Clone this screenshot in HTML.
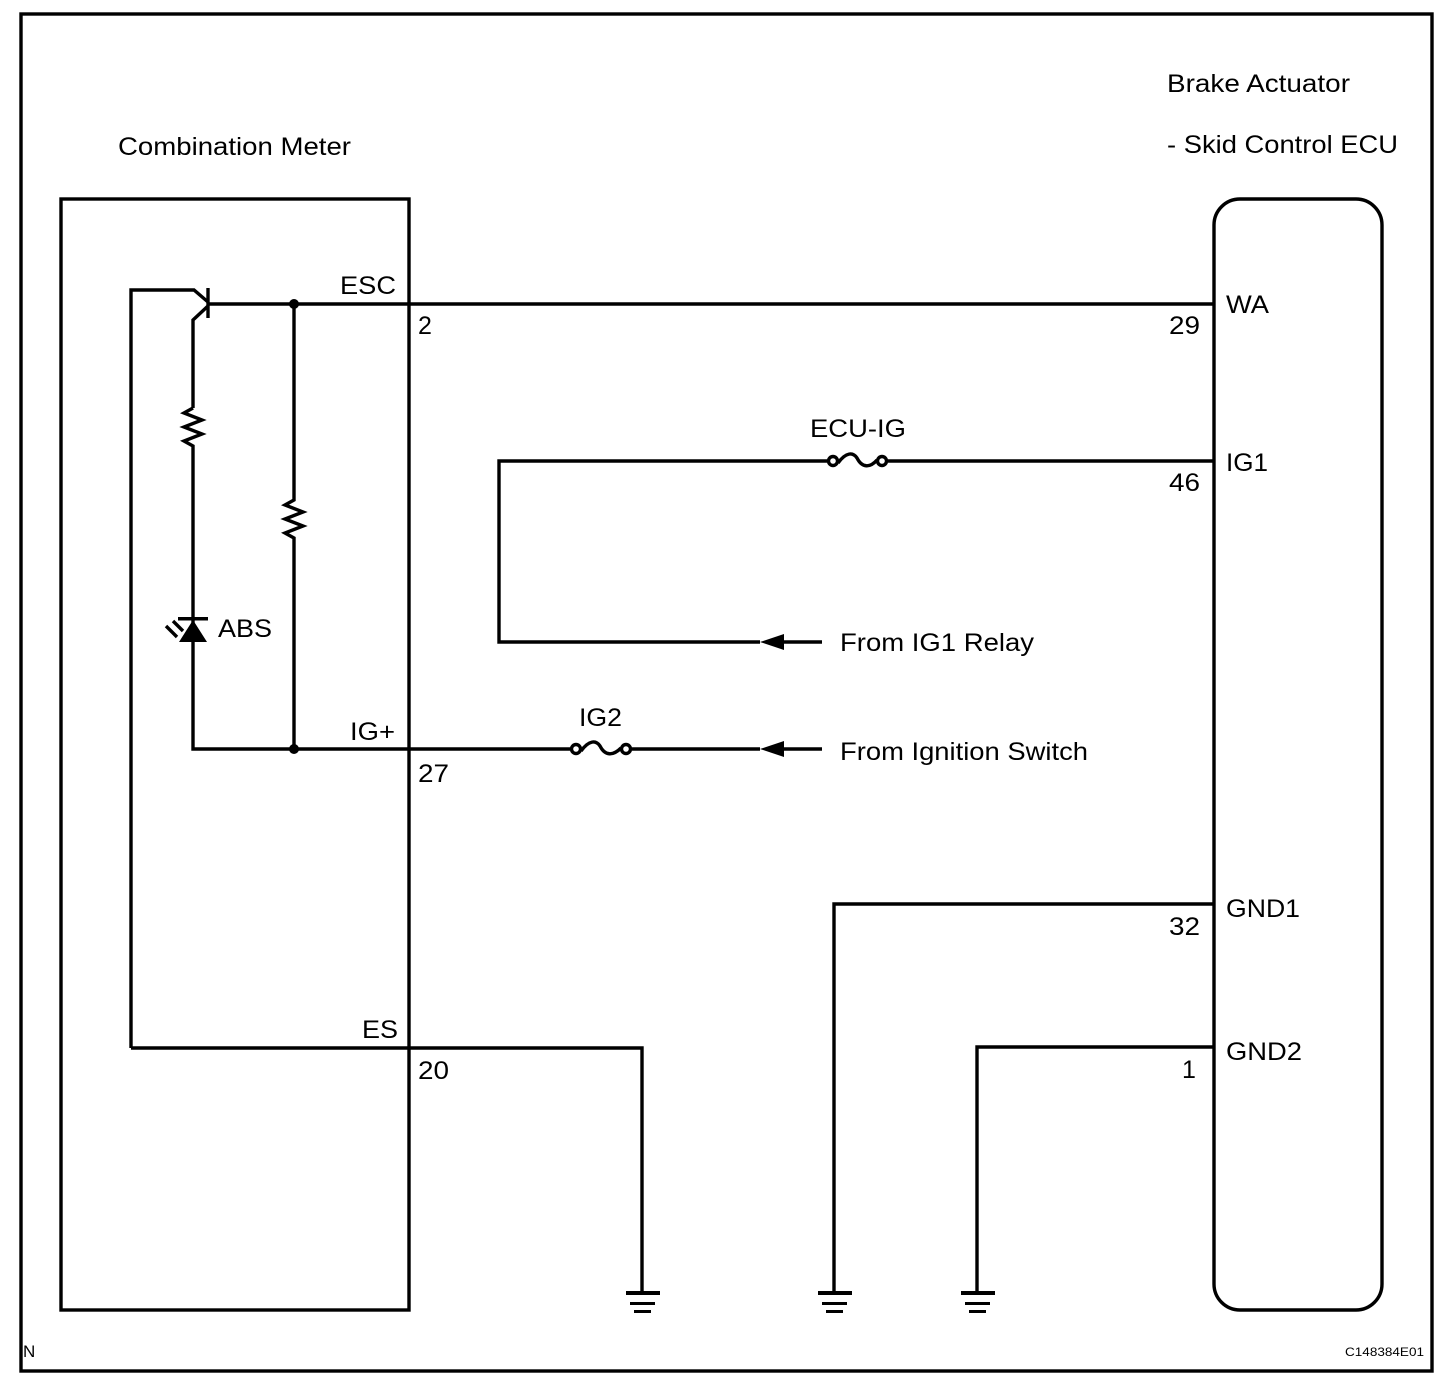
<!DOCTYPE html>
<html><head><meta charset="utf-8"><style>
html,body{margin:0;padding:0;background:#fff;}
svg{display:block;}
text{font-family:"Liberation Sans",Arial,sans-serif;font-size:25px;fill:#000;}
</style></head><body>
<svg width="1456" height="1386" viewBox="0 0 1456 1386" xmlns="http://www.w3.org/2000/svg">
<g fill="none" stroke="#000" stroke-width="3.4">
<rect x="21" y="14" width="1411" height="1357"/>
<rect x="61" y="199" width="348" height="1111"/>
<rect x="1214" y="199" width="168" height="1111" rx="26"/>
<polyline points="208,304 1214,304"/>
<line x1="208" y1="288" x2="208" y2="318"/>
<polyline points="131,1048 131,290 194,290 208,302"/>
<polyline points="208,306 193,320 193,408"/>
<polyline points="193,408 184,413 202,420 184,427 202,434 184,441 193,446 193,625"/>
<polyline points="294,304 294,500 285,505 303,512 285,519 303,526 285,533 294,538 294,749"/>
<polyline points="193,630 193,749 409,749"/>
<line x1="409" y1="749" x2="570" y2="749"/>
<line x1="632" y1="749" x2="760" y2="749"/>
<line x1="780" y1="749" x2="822" y2="749"/>
<polyline points="760,642 499,642 499,461 827,461"/>
<line x1="780" y1="642" x2="822" y2="642"/>
<line x1="888" y1="461" x2="1214" y2="461"/>
<polyline points="131,1048 642,1048 642,1292"/>
<polyline points="1214,904 834,904 834,1292"/>
<polyline points="1214,1047 977,1047 977,1292"/>
<circle cx="833" cy="461" r="4.5"/><circle cx="882" cy="461" r="4.5"/>
<path d="M838,463 C846,452 853,452 857,458 C862,468 870,468 877,460"/>
<circle cx="576" cy="749" r="4.5"/><circle cx="626" cy="749" r="4.5"/>
<path d="M581,751 C589,740 596,740 600,746 C605,756 613,756 621,748"/>
<line x1="166" y1="626" x2="177" y2="637"/>
<line x1="173" y1="621" x2="183" y2="631"/>
</g>
<g fill="#000">
<circle cx="294" cy="304" r="5"/><circle cx="294" cy="749" r="5"/>
<polygon points="179,642 207,642 193,620"/>
<rect x="178" y="617" width="30" height="3.5"/>
<polygon points="760,642 784,634 784,650"/>
<polygon points="760,749 784,741 784,757"/>
<g id="g1"><rect x="626" y="1291" width="34" height="4"/><rect x="630" y="1302" width="25" height="3"/><rect x="634" y="1310" width="17" height="3"/></g>
<use href="#g1" x="192"/>
<use href="#g1" x="335"/>
</g>
<g lengthAdjust="spacingAndGlyphs">
<text x="118" y="155" textLength="233" lengthAdjust="spacingAndGlyphs">Combination Meter</text>
<text x="1167" y="92" textLength="183" lengthAdjust="spacingAndGlyphs">Brake Actuator</text>
<text x="1167" y="153" textLength="231" lengthAdjust="spacingAndGlyphs">- Skid Control ECU</text>
<text x="340" y="294" textLength="56" lengthAdjust="spacingAndGlyphs">ESC</text>
<text x="418" y="334">2</text>
<text x="1169" y="334" textLength="31" lengthAdjust="spacingAndGlyphs">29</text>
<text x="1226" y="313" textLength="43" lengthAdjust="spacingAndGlyphs">WA</text>
<text x="810" y="437" textLength="96" lengthAdjust="spacingAndGlyphs">ECU-IG</text>
<text x="1169" y="491" textLength="31" lengthAdjust="spacingAndGlyphs">46</text>
<text x="1226" y="471" textLength="42" lengthAdjust="spacingAndGlyphs">IG1</text>
<text x="218" y="637" textLength="54" lengthAdjust="spacingAndGlyphs">ABS</text>
<text x="840" y="651" textLength="194" lengthAdjust="spacingAndGlyphs">From IG1 Relay</text>
<text x="350" y="740" textLength="45" lengthAdjust="spacingAndGlyphs">IG+</text>
<text x="418" y="782" textLength="31" lengthAdjust="spacingAndGlyphs">27</text>
<text x="579" y="726" textLength="43" lengthAdjust="spacingAndGlyphs">IG2</text>
<text x="840" y="760" textLength="248" lengthAdjust="spacingAndGlyphs">From Ignition Switch</text>
<text x="1226" y="917" textLength="74" lengthAdjust="spacingAndGlyphs">GND1</text>
<text x="1169" y="935" textLength="31" lengthAdjust="spacingAndGlyphs">32</text>
<text x="362" y="1038" textLength="36" lengthAdjust="spacingAndGlyphs">ES</text>
<text x="418" y="1079" textLength="31" lengthAdjust="spacingAndGlyphs">20</text>
<text x="1226" y="1060" textLength="76" lengthAdjust="spacingAndGlyphs">GND2</text>
<text x="1182" y="1078">1</text>
<text x="23" y="1357" style="font-size:17px">N</text>
<text x="1345" y="1356" style="font-size:12px" textLength="79" lengthAdjust="spacingAndGlyphs">C148384E01</text>
</g>
</svg>
</body></html>
